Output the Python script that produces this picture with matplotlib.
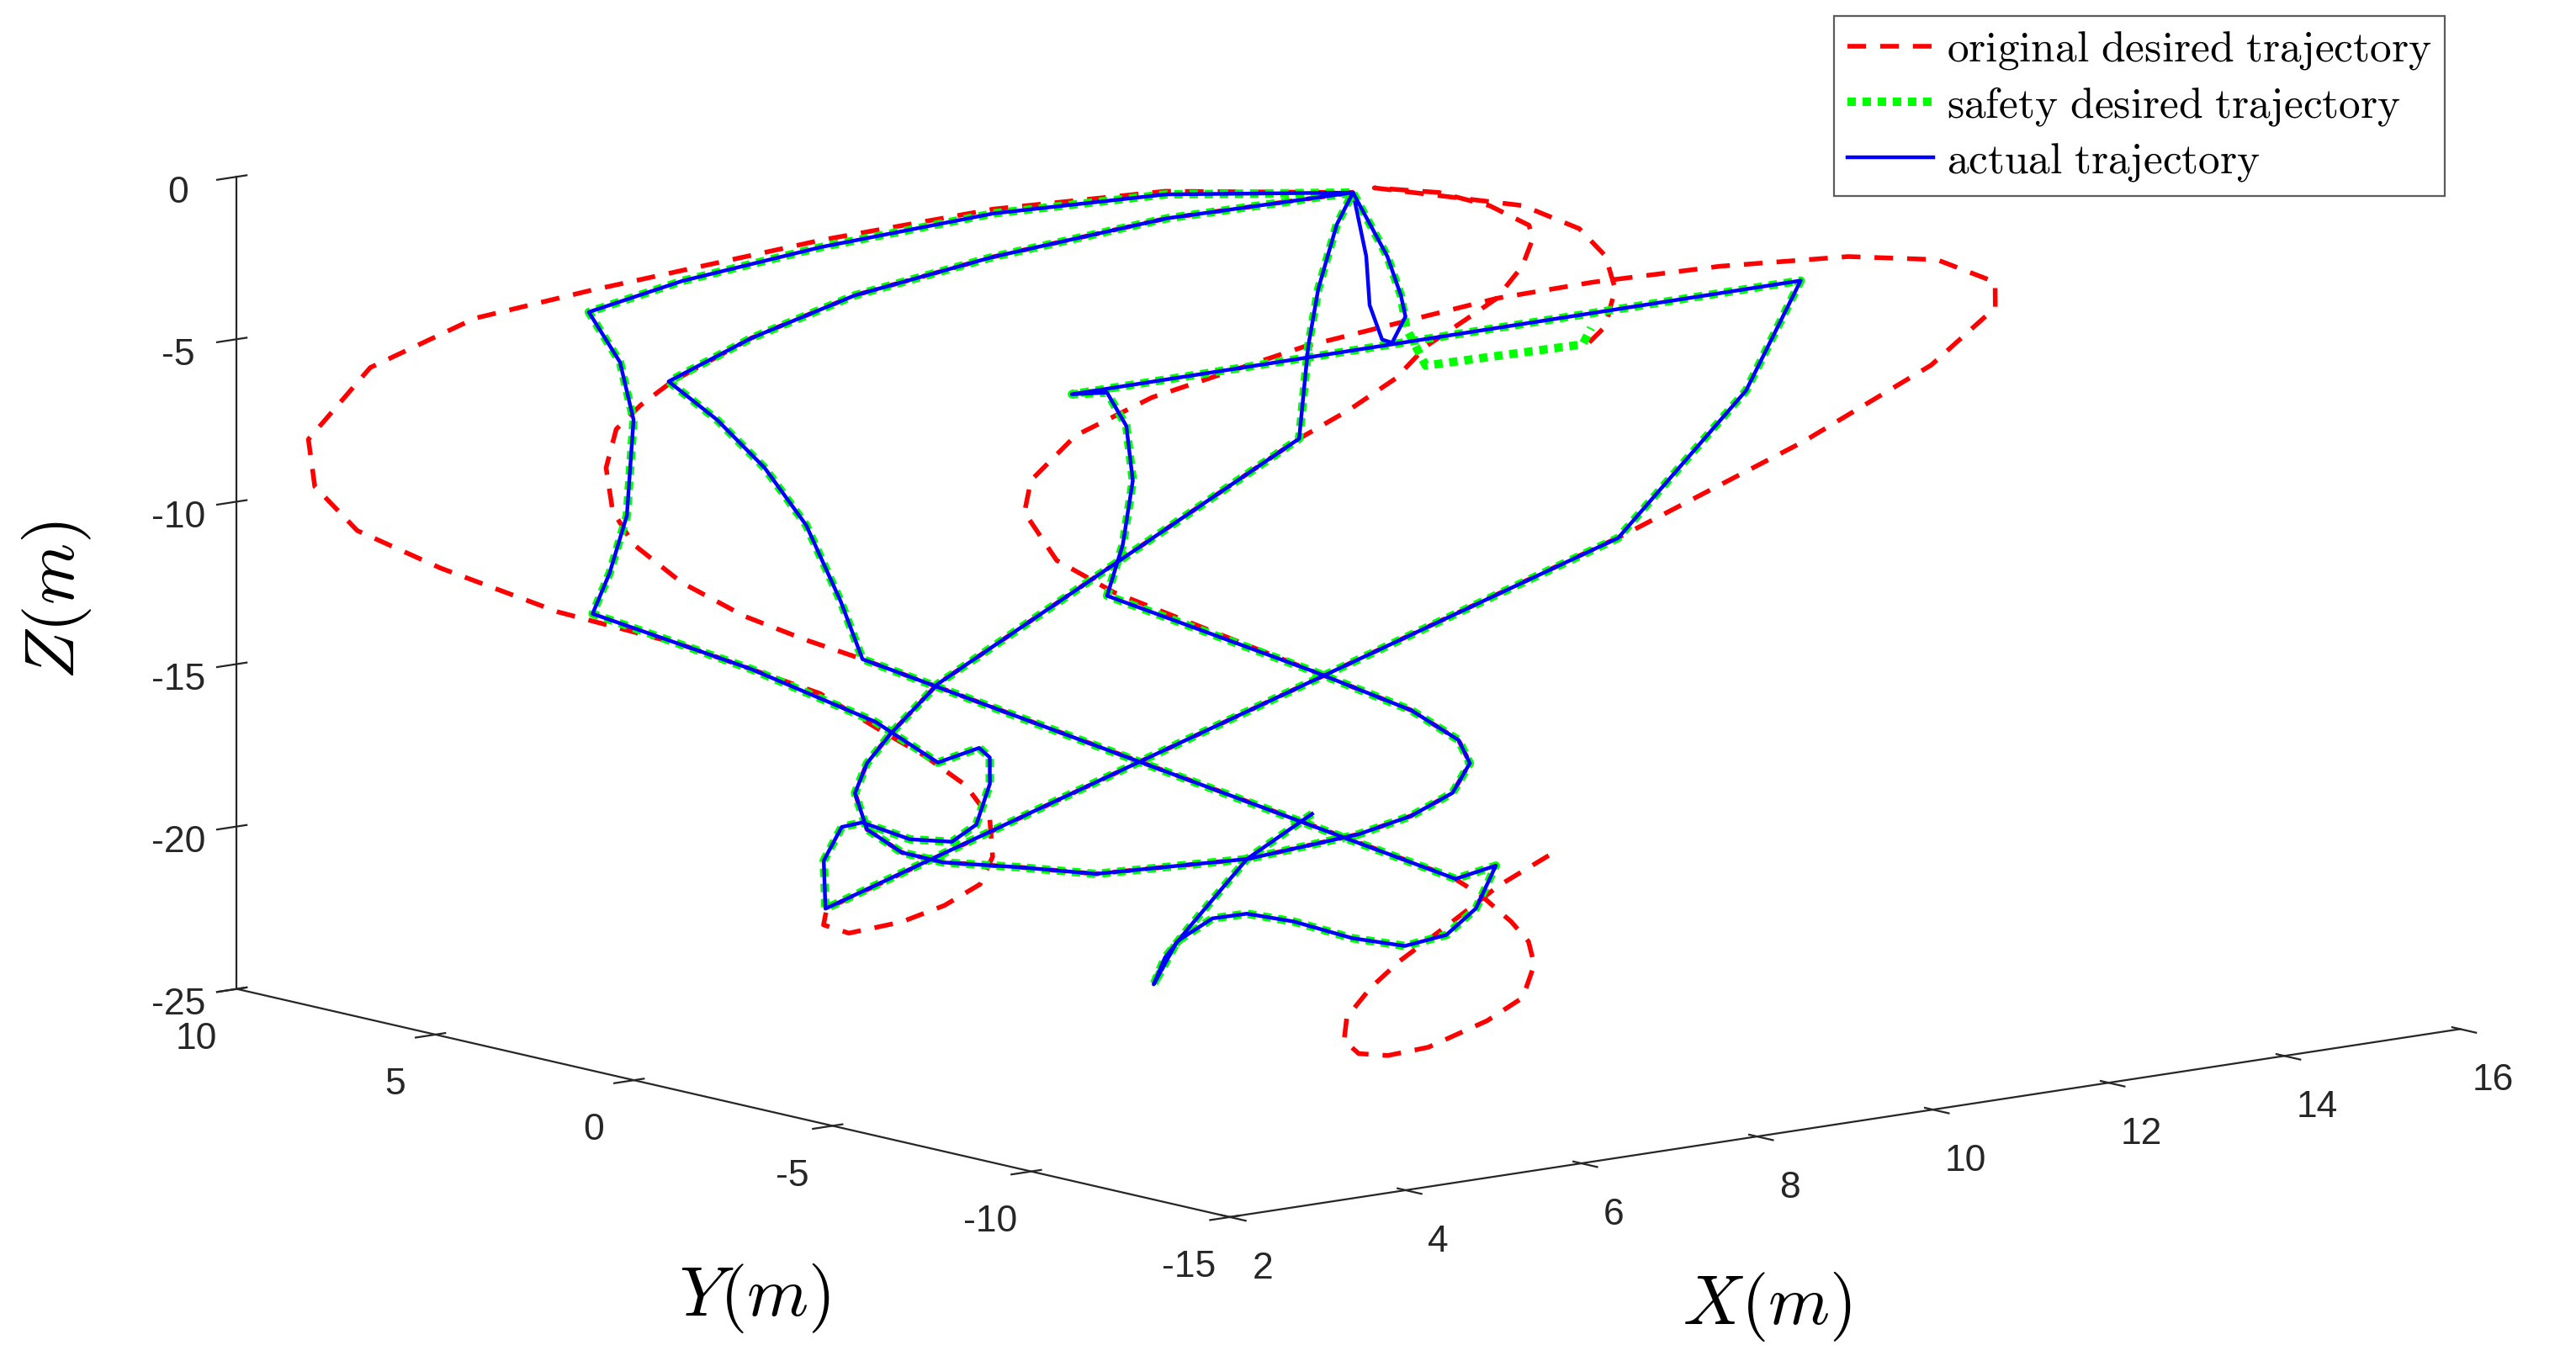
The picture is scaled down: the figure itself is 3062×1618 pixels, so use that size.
import numpy as np
import matplotlib
matplotlib.use("Agg")
import matplotlib.pyplot as plt

plt.rcParams['mathtext.fontset'] = 'cm'
plt.rcParams['font.family'] = ['Liberation Sans', 'DejaVu Sans']
plt.rcParams['axes.unicode_minus'] = False

# ---------------- data (x, y, z) ----------------
segA_x = [7.79, 7.11, 6.35, 6.04, 5.83, 6.21, 6.57, 6.84, 7.14, 7.48, 7.82, 8.17, 8.51, 8.86, 8.51]
segA_y = [-4.26, -4.13, -4.33, -4.43, -4.61, -4.36, -4.45, -4.72, -5.24, -5.96, -6.53, -6.80, -6.79, -6.52, -6.28]
segA_z = [-18.00, -19.14, -20.91, -21.65, -22.34, -21.24, -20.66, -20.55, -20.77, -21.22, -21.44, -21.17, -20.50, -19.40, -19.73]

segB_x = [5.31, 5.43, 5.55, 5.53, 5.42, 5.26]
segB_y = [1.57, 2.38, 3.52, 4.52, 5.48, 6.34]
segB_z = [-13.85, -12.36, -10.37, -8.88, -7.62, -6.62]

top2_x = [6.06, 7.01, 8.19, 9.62, 11.08]
top2_y = [6.03, 5.52, 4.65, 3.45, 1.99]
top2_z = [-5.53, -4.46, -3.52, -2.59, -1.99]

top1_x = [9.73, 8.40, 7.00, 5.84, 5.02, 5.00, 4.82, 4.31, 3.91, 3.59, 4.46, 5.10, 5.35, 5.72, 5.75, 5.62,
          5.33, 5.07, 4.78, 4.52, 4.35, 4.06, 3.84]
top1_y = [3.71, 5.11, 6.36, 7.28, 7.82, 6.99, 6.25, 5.29, 4.84, 4.56, 2.50, 0.78, -0.24, -0.46, -0.66, -0.95,
          -1.25, -1.21, -0.80, -0.17, -0.03, -0.22, -0.75]
top1_z = [-1.97, -2.40, -3.21, -4.03, -4.80, -6.10, -7.59, -10.06, -11.54, -12.58, -14.06, -15.47, -16.54, -16.18,
          -16.43, -17.11, -18.16, -18.59, -18.51, -18.06, -18.17, -19.03, -20.27]

mid_x = [11.32, 12.95, 13.87, 8.09, 8.35, 8.33, 8.11, 7.73, 7.37]
mid_y = [-4.16, -3.77, -3.11, 2.45, 2.14, 1.61, 0.96, 0.37, -0.03]
mid_z = [-10.99, -7.24, -4.42, -7.09, -7.06, -7.93, -9.34, -10.98, -12.30]

big_x = [8.48, 9.00, 9.20, 9.17, 8.90, 8.49, 8.03, 7.11, 5.95, 5.43, 4.91, 4.66, 4.52, 4.61, 4.84, 5.15, 5.73, 9.51]
big_y = [-2.73, -4.08, -4.83, -5.18, -5.34, -5.20, -4.91, -4.14, -2.89, -2.11, -1.35, -0.86, -0.29, 0.21, 0.42, 0.51, 0.61, -0.13]
big_z = [-14.31, -15.36, -16.15, -16.75, -17.51, -18.09, -18.54, -19.14, -19.47, -19.27, -19.12, -18.85, -18.24,
         -17.30, -16.54, -15.78, -14.52, -8.32]

up_x = [10.02, 10.37, 10.81, 11.08]
up_y = [0.77, 1.29, 1.80, 1.99]
up_z = [-5.94, -4.46, -2.81, -1.99]

blue_end_x = [11.02, 10.93, 10.86, 10.64, 10.58, 10.66, 10.87, 11.05]
blue_end_y = [0.99, 0.45, 0.18, 0.03, 0.15, 0.64, 1.19, 1.87]
blue_end_z = [-3.65, -4.66, -5.21, -5.88, -5.79, -4.90, -3.64, -2.25]

green_end_x = [11.02, 10.93, 10.81, 10.77, 12.00, 12.14]
green_end_y = [0.99, 0.45, 0.05, -0.53, -1.76, -1.66]
green_end_z = [-3.65, -4.66, -5.50, -6.48, -5.99, -5.57]

r_start_x = [9.29, 8.79, 8.28, 7.71, 7.37, 7.06, 6.93, 6.97, 7.17, 7.50, 8.05, 8.42, 8.66, 8.73, 8.70, 8.61, 8.49, 5.31]
r_start_y = [-6.90, -6.76, -6.71, -6.64, -6.66, -6.75, -6.97, -7.25, -7.54, -7.83, -8.09, -8.17, -7.93, -7.63, -7.26, -6.70, -6.24, 1.57]
r_start_z = [-19.16, -19.91, -20.83, -21.83, -22.51, -23.26, -23.86, -24.20, -24.26, -24.06, -23.40, -22.82,
             -21.97, -21.37, -20.85, -20.16, -19.68, -13.85]

r_bulge_x = [5.00, 4.67, 4.38, 4.22, 4.23, 4.39, 4.65, 4.94, 5.28]
r_bulge_y = [2.29, 3.12, 4.06, 4.92, 5.47, 5.99, 6.31, 6.34, 6.30]
r_bulge_z = [-13.34, -12.70, -11.81, -10.81, -9.94, -8.82, -7.83, -7.22, -6.62]

r_top1_x = [9.74, 8.42, 7.03, 5.12, 4.17, 3.18, 2.39, 2.21, 2.30, 2.72, 3.35, 4.08, 4.84, 5.10, 5.29, 5.44,
            5.46, 5.29, 5.07, 4.71, 4.32, 3.89, 3.75, 3.85]
r_top1_y = [3.75, 5.16, 6.43, 8.04, 8.81, 9.25, 9.06, 8.50, 7.63, 6.46, 4.90, 3.40, 1.60, 0.62, -0.03, -0.73,
            -1.30, -1.75, -1.92, -1.82, -1.60, -1.23, -0.90, -0.76]
r_top1_z = [-1.89, -2.29, -3.03, -4.25, -4.92, -6.15, -7.98, -9.20, -10.35, -11.35, -12.52, -13.41, -14.72,
            -15.71, -16.36, -17.13, -17.98, -18.99, -19.70, -20.23, -20.64, -20.91, -20.69, -20.27]

r_right_x = [11.38, 13.11, 14.40, 15.14, 15.26, 14.95, 14.33, 13.36, 12.37, 11.61, 10.00, 8.65, 7.92, 7.38, 7.18, 7.18, 7.44]
r_right_y = [-4.18, -4.85, -5.22, -5.20, -4.93, -4.15, -3.29, -2.21, -1.19, -0.47, 0.80, 1.67, 1.98, 1.91, 1.63, 0.82, -0.05]
r_right_z = [-10.91, -8.58, -6.65, -5.19, -4.53, -3.93, -3.82, -4.02, -4.39, -4.77, -5.94, -7.20, -8.16, -9.30,
             -10.12, -11.37, -12.22]

r_arc_x = [10.01, 10.49, 10.87, 11.27, 11.60, 11.94, 12.14, 12.19, 12.00, 11.70, 11.26, 12.24, 12.53, 12.59, 12.50, 12.25, 12.01]
r_arc_y = [-0.29, -0.39, -0.33, -0.41, -0.47, -0.37, -0.18, 0.01, 0.58, 1.19, 1.85, 0.28, -0.50, -1.03, -1.47, -1.78, -1.81]
r_arc_z = [-7.59, -6.80, -5.97, -5.32, -4.78, -3.95, -3.28, -2.90, -2.38, -2.02, -1.88, -2.39, -3.00, -3.72,
           -4.57, -5.53, -6.03]

x_ticks = [2, 4, 6, 8, 10, 12, 14, 16]
y_ticks = [-15, -10, -5, 0, 5, 10]
z_ticks = [-25, -20, -15, -10, -5, 0]

labels = [r'$\mathrm{original\ desired\ trajectory}$',
          r'$\mathrm{safety\ desired\ trajectory}$',
          r'$\mathrm{actual\ trajectory}$']

# ---------------- assemble paths ----------------
def cat(*parts):
    return np.concatenate([np.asarray(p, float) for p in parts])

blue_x = cat(segA_x, segB_x, top2_x, top1_x, mid_x, big_x, up_x, blue_end_x)
blue_y = cat(segA_y, segB_y, top2_y, top1_y, mid_y, big_y, up_y, blue_end_y)
blue_z = cat(segA_z, segB_z, top2_z, top1_z, mid_z, big_z, up_z, blue_end_z)

green_x = cat(segA_x, segB_x, top2_x, top1_x, mid_x, big_x, up_x, green_end_x)
green_y = cat(segA_y, segB_y, top2_y, top1_y, mid_y, big_y, up_y, green_end_y)
green_z = cat(segA_z, segB_z, top2_z, top1_z, mid_z, big_z, up_z, green_end_z)

red_x = cat(r_start_x, r_bulge_x, top2_x, r_top1_x, r_right_x, big_x, r_arc_x)
red_y = cat(r_start_y, r_bulge_y, top2_y, r_top1_y, r_right_y, big_y, r_arc_y)
red_z = cat(r_start_z, r_bulge_z, top2_z, r_top1_z, r_right_z, big_z, r_arc_z)

# ---------------- plot ----------------
fig = plt.figure(figsize=(15.31, 8.09), dpi=200)
ax = fig.add_axes([-0.0188, -0.470, 1.056, 2.0], projection='3d', proj_type='ortho')

ax.plot(red_x, red_y, red_z, color='#ff0000', ls=(0, (4, 3)), lw=2.0, label=labels[0])
ax.plot(green_x, green_y, green_z, color='#00ff00', ls=(0, (1, 0.8)), lw=3.6, label=labels[1])
ax.plot(blue_x, blue_y, blue_z, color='#0000ff', ls='-', lw=1.6, label=labels[2])

ax.set_xlim(2, 16)
ax.set_ylim(-15, 10)
ax.set_zlim(-25, 0)
ax.set_xticks(x_ticks)
ax.set_yticks(y_ticks)
ax.set_zticks(z_ticks)
ax.set_box_aspect((1.92, 1.90, 1.0), zoom=0.85)
ax.view_init(elev=10.8, azim=-129.2)

for axis in (ax.xaxis, ax.yaxis, ax.zaxis):
    axis.set_pane_color((1, 1, 1, 0))
    axis.pane.set_edgecolor((1, 1, 1, 0))
    axis.line.set_color('#262626')
    axis.line.set_linewidth(0.8)
    axis._axinfo['grid']['linewidth'] = 0
    axis._axinfo['grid']['color'] = (1, 1, 1, 0)
    axis._axinfo['tick']['color'] = '#262626'
ax.grid(False)
ax.tick_params(labelsize=16, colors='#262626')
ax.tick_params(axis='x', pad=12)
ax.tick_params(axis='y', pad=12)
ax.tick_params(axis='z', pad=8)

fig.text(0.293, 0.046, r'$Y(m)$', fontsize=30, ha='center', va='center')
fig.text(0.686, 0.040, r'$X(m)$', fontsize=30, ha='center', va='center')
fig.text(0.022, 0.559, r'$Z(m)$', fontsize=30, ha='center', va='center', rotation=90)

leg = fig.legend(loc='upper right', bbox_to_anchor=(0.949, 0.988), borderaxespad=0, fontsize=18.5,
                 frameon=True, fancybox=False, edgecolor='#333333', handlelength=2.0,
                 handletextpad=0.3, borderpad=0.3, labelspacing=0.3)
leg.get_frame().set_linewidth(0.8)

fig.savefig('out.png', dpi=200, facecolor='white')
